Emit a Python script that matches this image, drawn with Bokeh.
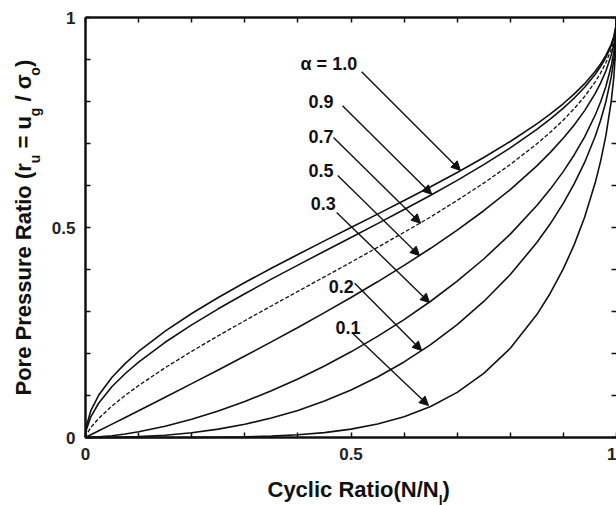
import math

from bokeh.embed import file_html
from bokeh.models import Arrow, FixedTicker, Label, LinearAxis, NormalHead, Range1d
from bokeh.plotting import figure
from bokeh.resources import INLINE

# Cyclic ratio N/N_l at which the curves are sampled
n_ratio = [0, 0.0005, 0.002, 0.01, 0.025, 0.05, 0.075, 0.1, 0.15, 0.2, 0.25, 0.3,
           0.35, 0.4, 0.45, 0.5, 0.55, 0.6, 0.65, 0.7, 0.75, 0.8, 0.85, 0.875,
           0.9, 0.92, 0.94, 0.96, 0.97, 0.98, 0.99, 0.995, 0.999, 1.0]

# Pore pressure ratio r_u for each alpha
ru_a10 = [0, 0.0142, 0.0285, 0.0638, 0.1011, 0.1436, 0.1766, 0.2048, 0.2532, 0.2952,
          0.3333, 0.3690, 0.4030, 0.4359, 0.4681, 0.5, 0.5319, 0.5641, 0.5970, 0.6310,
          0.6667, 0.7048, 0.7468, 0.7699, 0.7952, 0.8174, 0.8425, 0.8718, 0.8892,
          0.9097, 0.9362, 0.9549, 0.9799, 1.0]
ru_a09 = [0, 0.0093, 0.0202, 0.0493, 0.0822, 0.1213, 0.1524, 0.1795, 0.2267, 0.2682,
          0.3064, 0.3424, 0.3770, 0.4105, 0.4435, 0.4763, 0.5093, 0.5427, 0.5769, 0.6123,
          0.6496, 0.6895, 0.7335, 0.7578, 0.7843, 0.8077, 0.8340, 0.8649, 0.8832,
          0.9048, 0.9328, 0.9525, 0.9788, 1.0]
ru_a07 = [0, 0.0028, 0.0075, 0.0237, 0.0457, 0.0751, 0.1005, 0.1237, 0.1661, 0.2052,
          0.2423, 0.2781, 0.3132, 0.3479, 0.3825, 0.4173, 0.4526, 0.4886, 0.5251, 0.5646,
          0.6057, 0.6501, 0.6992, 0.7263, 0.7560, 0.7825, 0.8120, 0.8470, 0.8677,
          0.8921, 0.9238, 0.9462, 0.9759, 1.0]
ru_a05 = [0, 0.0003, 0.0013, 0.0064, 0.0159, 0.0318, 0.0478, 0.0638, 0.0959, 0.1282,
          0.1609, 0.1940, 0.2276, 0.2620, 0.2972, 0.3333, 0.3707, 0.4097, 0.4505, 0.4936,
          0.5399, 0.5903, 0.6468, 0.6783, 0.7129, 0.7436, 0.7783, 0.8193, 0.8437,
          0.8725, 0.9101, 0.9362, 0.9715, 1.0]
ru_a03 = [0, 0, 0, 0.0003, 0.0014, 0.0043, 0.0085, 0.0137, 0.0270, 0.0436,
          0.0633, 0.0858, 0.1112, 0.1393, 0.1703, 0.2040, 0.2408, 0.2807, 0.3244, 0.3721,
          0.4250, 0.4843, 0.5523, 0.5908, 0.6336, 0.6721, 0.7158, 0.7678, 0.7989,
          0.8357, 0.8838, 0.9178, 0.9632, 1.0]
ru_a02 = [0, 0, 0, 0, 0.0001, 0.0004, 0.0010, 0.0020, 0.0055, 0.0114,
          0.0199, 0.0314, 0.0462, 0.0645, 0.0868, 0.1131, 0.1440, 0.1799, 0.2213, 0.2689,
          0.3239, 0.3880, 0.4641, 0.5082, 0.5579, 0.6031, 0.6549, 0.7173, 0.7547,
          0.7994, 0.8579, 0.8994, 0.9550, 1.0]
ru_a01 = [0, 0, 0, 0, 0, 0, 0, 0, 0, 0.0002,
          0.0006, 0.0015, 0.0033, 0.0065, 0.0117, 0.0199, 0.0321, 0.0496, 0.0740, 0.1075,
          0.1525, 0.2125, 0.2927, 0.3429, 0.4021, 0.4581, 0.5246, 0.6069, 0.6575,
          0.7186, 0.7999, 0.8581, 0.9364, 1.0]

alpha_labels = ["\u03b1 = 1.0", "0.9", "0.7", "0.5", "0.3", "0.2", "0.1"]

# label anchors (left / middle) and leader arrows, in data units
label_x = [0.405, 0.420, 0.420, 0.420, 0.424, 0.458, 0.471]
label_y = [0.890, 0.800, 0.717, 0.636, 0.557, 0.360, 0.262]
arrow_x0 = [0.520, 0.484, 0.467, 0.475, 0.473, 0.507, 0.503]
arrow_y0 = [0.871, 0.790, 0.714, 0.624, 0.536, 0.367, 0.248]
arrow_x1 = [0.706, 0.652, 0.631, 0.629, 0.648, 0.633, 0.646]
arrow_y1 = [0.636, 0.579, 0.510, 0.433, 0.321, 0.207, 0.076]

major_ticks = [0, 0.5, 1]
minor_ticks = [0.1, 0.2, 0.3, 0.4, 0.6, 0.7, 0.8, 0.9]
tick_labels = {0: "0", 0.5: "0.5", 1: "1"}

FONT = "Liberation Sans"
INK = "#111111"

# canvas size and the pixel box that holds the unit square of data
W, H = 616, 505
LEFT, TOP, BOTTOM = 85, 17, 68
BOX_W = W - LEFT
BOX_H = H - TOP - BOTTOM

# the frame fills the whole canvas, so that titles outside the unit square
# are still drawn; the axes sit at fixed data locations on its edges
p = figure(width=W, height=H,
           x_range=Range1d(-LEFT / BOX_W, 1.0),
           y_range=Range1d(-BOTTOM / BOX_H, 1.0 + TOP / BOX_H),
           x_axis_type=None, y_axis_type=None,
           min_border=0, min_border_left=0, min_border_right=0,
           min_border_top=0, min_border_bottom=0,
           output_backend="svg", toolbar_location=None)
p.outline_line_color = None
p.background_fill_color = "white"
p.border_fill_color = "white"


def frame_axis(side, location, labelled):
    ax = LinearAxis(ticker=FixedTicker(ticks=major_ticks, minor_ticks=minor_ticks),
                    fixed_location=location, bounds=(0, 1))
    ax.major_tick_in = 5
    ax.major_tick_out = 0
    ax.minor_tick_in = 5
    ax.minor_tick_out = 0
    ax.major_tick_line_width = 1.5
    ax.minor_tick_line_width = 1.5
    ax.axis_line_width = 2.5
    ax.axis_line_color = INK
    ax.major_tick_line_color = INK
    ax.minor_tick_line_color = INK
    if labelled:
        ax.major_label_overrides = tick_labels
        ax.major_label_text_font = FONT
        ax.major_label_text_font_style = "bold"
        ax.major_label_text_font_size = "17px"
        ax.major_label_text_color = "#222222"
        ax.major_label_standoff = 10
    else:
        ax.major_label_text_alpha = 0
        ax.major_label_standoff = 0
    p.add_layout(ax, side)
    return ax


frame_axis("below", 0, True)
frame_axis("left", 0, True)
frame_axis("above", 1, False)
right_ax = frame_axis("right", 1, False)
right_ax.axis_line_color = None

# pore pressure curves
solid = dict(line_color=INK, line_width=1.6)
for series in (ru_a10, ru_a09, ru_a05, ru_a03, ru_a02, ru_a01):
    p.line(n_ratio, series, **solid)
p.line(n_ratio, ru_a07, line_color=INK, line_width=1.3, line_dash="4 2")

# alpha labels with leader arrows
for text, lx, ly, x0, y0, x1, y1 in zip(alpha_labels, label_x, label_y,
                                         arrow_x0, arrow_y0, arrow_x1, arrow_y1):
    p.add_layout(Label(x=lx, y=ly, text=text, text_font=FONT, text_font_style="bold",
                       text_font_size="18px", text_baseline="middle", text_align="left",
                       text_color=INK))
    p.add_layout(Arrow(x_start=x0, y_start=y0, x_end=x1, y_end=y1,
                       line_color=INK, line_width=1.4,
                       end=NormalHead(size=9, fill_color=INK,
                                      line_color=INK, line_width=1)))

# axis titles with subscripts, laid out run by run
ADV = {" ": 278, "P": 667, "o": 611, "r": 389, "e": 556, "s": 556, "u": 611,
       "R": 722, "a": 556, "t": 333, "i": 278, "(": 333, ")": 333, "=": 584,
       "g": 611, "/": 278, "\u03c3": 617, "C": 722, "y": 556, "c": 556, "l": 278,
       "N": 722}


def run_width(text, size):
    return sum(ADV.get(ch, 600) for ch in text) * size / 1000.0


def px_to_x(px):
    return (px - LEFT) / BOX_W


def py_to_y(py):
    return (TOP + BOX_H - py) / BOX_H


MAIN, SUB, DROP = 22, 14, 9
BASE_FIX = 0.36  # the text box sits this fraction of the size below the anchor


def title_runs(runs, start, baseline, vertical):
    pos = start
    for text, sub in runs:
        size = SUB if sub else MAIN
        if text.strip():
            line = baseline + (DROP if sub else 0) - BASE_FIX * size
            if vertical:
                x, y, ang = px_to_x(line), py_to_y(pos), math.pi / 2
            else:
                x, y, ang = px_to_x(pos), py_to_y(line), 0
            p.add_layout(Label(x=x, y=y, text=text, angle=ang, text_font=FONT,
                               text_font_style="bold", text_font_size=f"{size}px",
                               text_align="left", text_baseline="alphabetic",
                               text_color=INK))
        step = run_width(text, size)
        pos = pos - step if vertical else pos + step


title_runs([("Pore Pressure Ratio (r", False), ("u", True), (" ", False),
            ("= u", False), ("g", True), (" ", False), ("/ \u03c3", False),
            ("o", True), (")", False)], start=395, baseline=31, vertical=True)
title_runs([("Cyclic Ratio(N/N", False), ("l", True), (")", False)],
           start=267, baseline=497, vertical=False)

open("out.html", "w").write(file_html(p, INLINE))
